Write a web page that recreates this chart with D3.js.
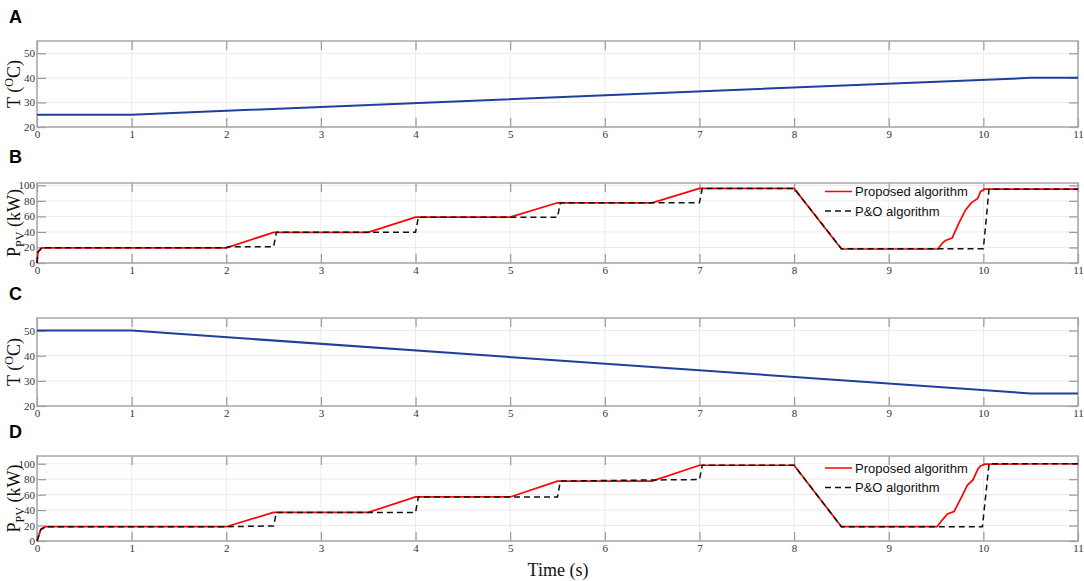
<!DOCTYPE html>
<html>
<head>
<meta charset="utf-8">
<script src="https://cdn.jsdelivr.net/npm/d3@7"></script>
<style>
  body { margin: 0; background: #fff; }
  .tick text { font-family: "Liberation Serif", "Times New Roman", serif; font-size: 11px; fill: #333; }
  .ytitle, .xtitle { font-family: "Liberation Serif", "Times New Roman", serif; fill: #111; }
  .letter { font-family: "Liberation Sans", Arial, sans-serif; font-weight: bold; font-size: 18px; }
  .legend { font-family: "Liberation Sans", Arial, sans-serif; font-size: 13px; fill: #111; }
</style>
</head>
<body>
<svg id="chart" width="1084" height="581"></svg>
<script>
// ---- data ----
const xTicks = [0,1,2,3,4,5,6,7,8,9,10,11];
const tempTicks = [20,30,40,50];
const powerTicks = [0,20,40,60,80,100];

// panel A: temperature rising
const timeA = [0, 1, 10.5, 11];
const tempA = [25, 25, 40, 40];

// panel C: temperature falling
const timeC = [0, 1, 10.5, 11];
const tempC = [50, 50, 25, 25];

// panel B: PV power
const timePropB = [0, 0.01, 0.05, 2, 2.5, 3.5, 4, 5, 5.5, 6.5, 7, 8, 8.5, 9.52, 9.57, 9.6, 9.67, 9.74, 9.81, 9.87, 9.88, 9.94, 9.97, 10.01, 11];
const powPropB  = [0, 14, 19.5, 19.5, 39.5, 39.5, 59, 59, 77.5, 77.5, 96, 96, 18, 18, 26, 29, 32, 51, 68, 77, 78, 83, 92, 95, 95];
const timePoB = [0, 0.01, 0.05, 2, 2.02, 2.5, 2.53, 4, 4.03, 5.5, 5.53, 7, 7.03, 8, 8.5, 10.0, 10.06, 11];
const powPoB  = [0, 14, 19.5, 19.5, 21, 21, 39.5, 39.5, 59, 59, 77.5, 77.5, 96, 96, 18.5, 18.5, 95, 95];

// panel D: PV power
const timePropD = [0, 0.04, 0.09, 2, 2.5, 3.5, 4, 5, 5.5, 6.5, 7, 8, 8.5, 9.51, 9.55, 9.59, 9.62, 9.69, 9.78, 9.83, 9.89, 9.94, 9.97, 10.02, 11];
const powPropD  = [0, 15, 18.5, 18.5, 37, 37, 57, 57, 77.5, 77.5, 98, 98, 18.5, 18.5, 25, 30.5, 35, 38, 59.5, 72, 79, 92.5, 97, 99.5, 100];
const timePoD = [0, 0.04, 0.09, 2, 2.5, 2.53, 4, 4.03, 5.5, 5.53, 6.5, 7, 7.03, 8, 8.5, 9.99, 10.06, 11];
const powPoD  = [0, 15, 18.5, 18.5, 19.5, 37, 37, 57, 57, 77.5, 79, 79.5, 98, 98, 18.5, 18.5, 100, 100];

const legendNames = ["Proposed algorithm", "P&O algorithm"];

// ---- layout ----
const svg = d3.select("#chart");
const left = 37, right = 1078;
const x = d3.scaleLinear().domain([0, 11]).range([left, right]);

const panels = [
  { letter: "A", top: 41,  bottom: 127, ymax: 55,  ticks: tempTicks,  kind: "temp", t: timeA, v: tempA, letterY: 23 },
  { letter: "B", top: 183, bottom: 263, ymax: 103, ticks: powerTicks, kind: "pow",
    series: [[timePropB, powPropB], [timePoB, powPoB]], letterY: 163, legY: 191.5 },
  { letter: "C", top: 318, bottom: 406, ymax: 55,  ticks: tempTicks,  kind: "temp", t: timeC, v: tempC, letterY: 300 },
  { letter: "D", top: 456, bottom: 541, ymax: 110, ticks: powerTicks, kind: "pow",
    series: [[timePropD, powPropD], [timePoD, powPoD]], letterY: 438, legY: 468 }
];

panels.forEach(function(p) {
  const ymin = p.kind == "temp" ? 20 : 0;
  const y = d3.scaleLinear().domain([ymin, p.ymax]).range([p.bottom, p.top]);
  const g = svg.append("g");

  // grid
  g.append("g").selectAll("line").data(xTicks).enter().append("line")
    .attr("x1", d => x(d)).attr("x2", d => x(d))
    .attr("y1", p.top).attr("y2", p.bottom)
    .attr("stroke", "#ebebeb").attr("stroke-width", 1);
  g.append("g").selectAll("line").data(p.ticks).enter().append("line")
    .attr("x1", left).attr("x2", right)
    .attr("y1", d => y(d)).attr("y2", d => y(d))
    .attr("stroke", "#ebebeb").attr("stroke-width", 1);

  // axes, ticks pointing inwards
  const ax = g.append("g").attr("transform", "translate(0," + p.bottom + ")")
    .call(d3.axisBottom(x).tickValues(xTicks).tickSizeInner(-9).tickSizeOuter(0).tickPadding(4).tickFormat(d3.format("d")));
  const ay = g.append("g").attr("transform", "translate(" + left + ",0)")
    .call(d3.axisLeft(y).tickValues(p.ticks).tickSizeInner(-9).tickSizeOuter(0).tickPadding(2));
  const axTop = g.append("g").attr("transform", "translate(0," + p.top + ")")
    .call(d3.axisTop(x).tickValues(xTicks).tickSizeInner(-9).tickSizeOuter(0).tickFormat(""));
  const ayR = g.append("g").attr("transform", "translate(" + right + ",0)")
    .call(d3.axisRight(y).tickValues(p.ticks).tickSizeInner(-9).tickSizeOuter(0).tickFormat(""));
  [ax, ay, axTop, ayR].forEach(function(a) {
    a.select(".domain").remove();
    a.selectAll(".tick line").attr("stroke", "#999").attr("stroke-width", 1.2);
  });
  ax.selectAll(".tick text").attr("dy", "0.6em");

  // box
  g.append("rect").attr("x", left).attr("y", p.top)
    .attr("width", right - left).attr("height", p.bottom - p.top)
    .attr("fill", "none").attr("stroke", "#a6a6a6").attr("stroke-width", 1.5);

  // curves
  const line = d3.line().x(d => x(d[0])).y(d => y(d[1]));
  if (p.kind == "temp") {
    g.append("path").datum(d3.zip(p.t, p.v)).attr("d", line)
      .attr("fill", "none").attr("stroke", "#1f3f9c").attr("stroke-width", 2);
  } else {
    g.append("path").datum(d3.zip(p.series[0][0], p.series[0][1])).attr("d", line)
      .attr("fill", "none").attr("stroke", "#ff0000").attr("stroke-width", 1.7);
    g.append("path").datum(d3.zip(p.series[1][0], p.series[1][1])).attr("d", line)
      .attr("fill", "none").attr("stroke", "#111").attr("stroke-width", 1.5)
      .attr("stroke-dasharray", "6,4");

    // legend
    const leg = g.append("g");
    legendNames.forEach(function(name, i) {
      const ly = p.legY + i * 19.5;
      leg.append("line").attr("x1", 825).attr("x2", 852).attr("y1", ly).attr("y2", ly)
        .attr("stroke", i == 0 ? "#ff0000" : "#111").attr("stroke-width", 1.5)
        .attr("stroke-dasharray", i == 0 ? null : "6,4");
      leg.append("text").attr("class", "legend").attr("x", 855).attr("y", ly)
        .attr("dy", "0.35em").text(name);
    });
  }

  // y title
  const cy = (p.top + p.bottom) / 2;
  const t = g.append("text").attr("class", "ytitle")
    .attr("transform", "translate(20," + cy + ") rotate(-90)")
    .attr("text-anchor", "middle").attr("font-size", 18);
  if (p.kind == "temp") {
    t.append("tspan").text("T (");
    t.append("tspan").attr("font-size", 12).attr("dy", -7).text("O");
    t.append("tspan").attr("dy", 7).text("C)");
  } else {
    t.append("tspan").text("P");
    t.append("tspan").attr("font-size", 12).attr("dy", 4).text("PV");
    t.append("tspan").attr("dy", -4).text(" (kW)");
  }

  // panel letter
  svg.append("text").attr("class", "letter").attr("x", 9).attr("y", p.letterY).text(p.letter);
});

svg.append("text").attr("class", "xtitle").attr("x", 558).attr("y", 576)
  .attr("text-anchor", "middle").attr("font-size", 18).text("Time (s)");
</script>
</body>
</html>
